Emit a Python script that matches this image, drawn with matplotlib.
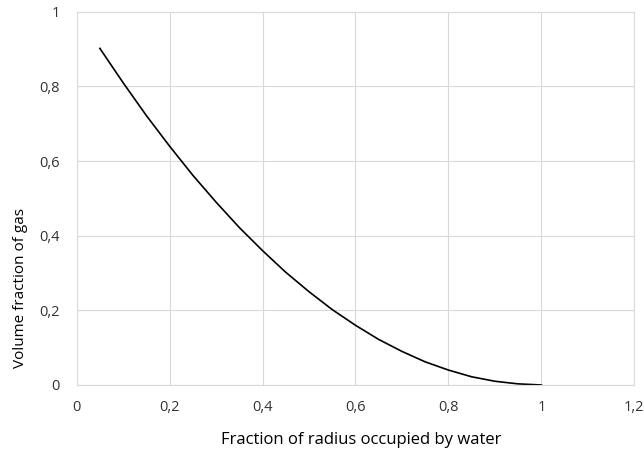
import matplotlib.pyplot as plt

# data
water_fraction = [0.05, 0.10, 0.15, 0.20, 0.25, 0.30, 0.35, 0.40, 0.45, 0.50,
                  0.55, 0.60, 0.65, 0.70, 0.75, 0.80, 0.85, 0.90, 0.95, 1.00]
gas_fraction = [0.902, 0.81, 0.722, 0.64, 0.562, 0.49, 0.422, 0.36, 0.302, 0.25,
                0.202, 0.16, 0.122, 0.09, 0.062, 0.04, 0.022, 0.01, 0.003, 0.0]

x_ticks = [0, 0.2, 0.4, 0.6, 0.8, 1.0, 1.2]
x_tick_labels = ['0', '0,2', '0,4', '0,6', '0,8', '1', '1,2']
y_ticks = [0, 0.2, 0.4, 0.6, 0.8, 1.0]
y_tick_labels = ['0', '0,2', '0,4', '0,6', '0,8', '1']

plt.rcParams['font.family'] = ['Open Sans', 'DejaVu Sans']

fig = plt.figure(figsize=(6.44, 4.54), dpi=100)
ax = fig.add_axes([0.119, 0.152, 0.866, 0.822])

ax.plot(water_fraction, gas_fraction, color='black', linewidth=1.2)

ax.set_xlim(0, 1.2)
ax.set_ylim(0, 1)
ax.set_xticks(x_ticks)
ax.set_xticklabels(x_tick_labels)
ax.set_yticks(y_ticks)
ax.set_yticklabels(y_tick_labels)
ax.tick_params(length=0, labelsize=10.5, colors='#333333', pad=11)
ax.tick_params(axis='y', pad=12)

ax.grid(True, color='#d9d9d9', linewidth=0.8)
ax.set_axisbelow(True)
for s in ax.spines.values():
    s.set_color('#d9d9d9')
    s.set_linewidth(0.8)

ax.set_xlabel('Fraction of radius occupied by water', fontsize=12, color='#000000')
ax.set_ylabel('Volume fraction of gas', fontsize=11, color='#000000')
ax.xaxis.set_label_coords(0.51, -0.125)
ax.yaxis.set_label_coords(-0.088, 0.26)

fig.savefig('out.png', dpi=100)
